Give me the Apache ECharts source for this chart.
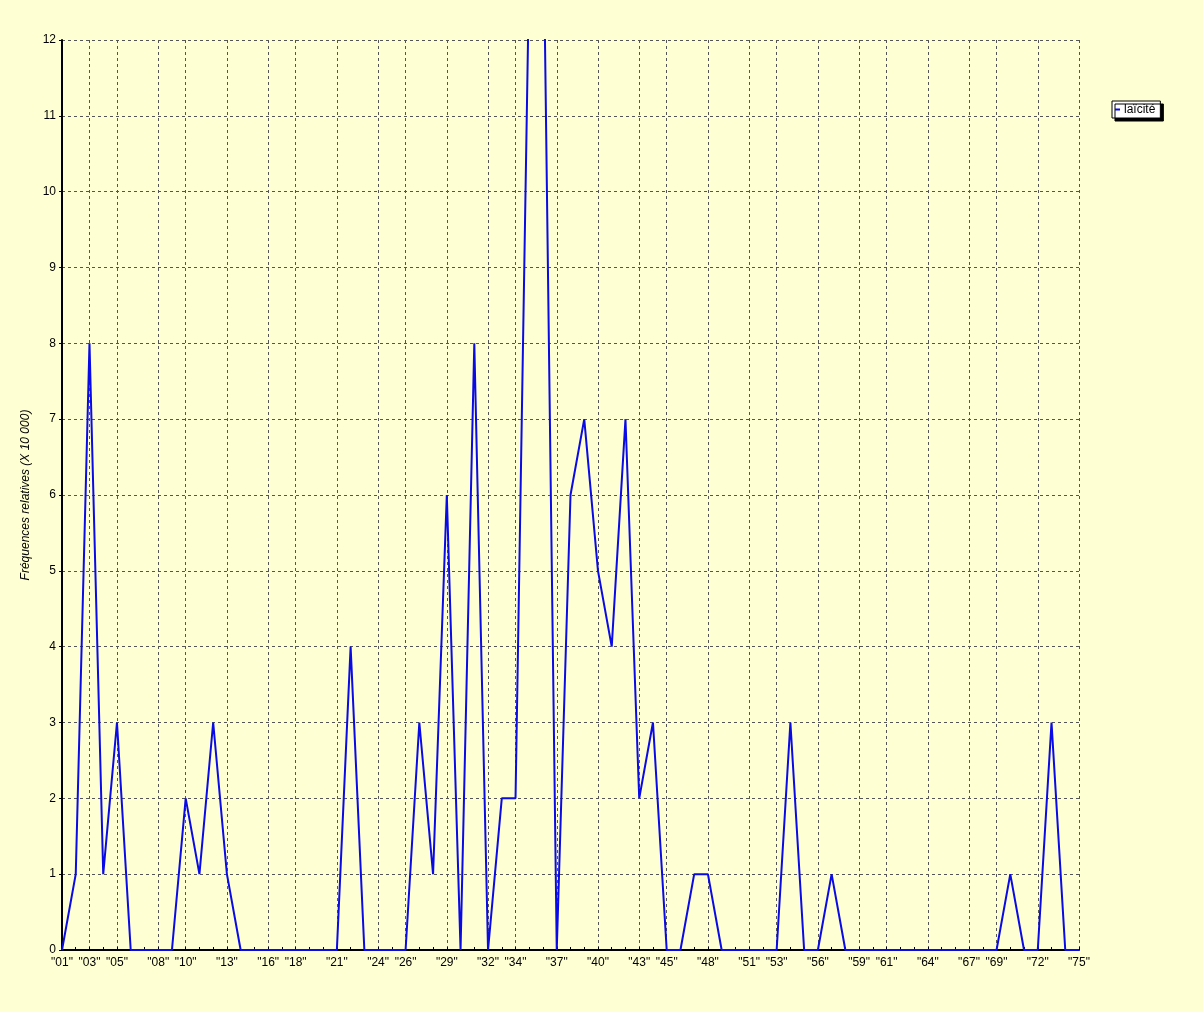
<!DOCTYPE html>
<html>
<head>
<meta charset="utf-8">
<script src="https://cdn.jsdelivr.net/npm/echarts@6/dist/echarts.min.js"></script>
<style>
html,body{margin:0;padding:0;background:#ffffd4;}
#c{width:1203px;height:1012px;}
</style>
</head>
<body>
<div id="c"></div>
<script>
var categories = ["01","02","03","04","05","06","07","08","09","10","11","12","13","14","15","16","17","18","19","20","21","22","23","24","25","26","27","28","29","30","31","32","33","34","35","36","37","38","39","40","41","42","43","44","45","46","47","48","49","50","51","52","53","54","55","56","57","58","59","60","61","62","63","64","65","66","67","68","69","70","71","72","73","74","75"];
var laicite = [0,1,8,1,3,0,0,0,0,2,1,3,1,0,0,0,0,0,0,0,0,4,0,0,0,0,3,1,6,0,8,0,2,2,13,14,0,6,7,5,4,7,2,3,0,0,1,1,0,0,0,0,0,3,0,0,1,0,0,0,0,0,0,0,0,0,0,0,0,1,0,0,3,0,0];
var labeledCategories = ["01","03","05","08","10","13","16","18","21","24","26","29","32","34","37","40","43","45","48","51","53","56","59","61","64","67","69","72","75"];
var yTicks = [0,1,2,3,4,5,6,7,8,9,10,11,12];

var chart = echarts.init(document.getElementById('c'));
function isLabeled(idx){ return labeledCategories.indexOf(categories[idx]) >= 0; }
var font = 'Liberation Sans, Arial, sans-serif';
chart.setOption({
  backgroundColor: '#ffffd4',
  animation: false,
  grid: {left: 62, top: 40, width: 1017, height: 910, containLabel: false},
  legend: {
    data: ['laïcité'],
    left: 1112, top: 101,
    orient: 'vertical',
    backgroundColor: '#ffffff',
    borderColor: '#000000',
    borderWidth: 1,
    borderRadius: 0,
    padding: [2, 5, 2, 3],
    shadowColor: '#000000',
    shadowOffsetX: 3,
    shadowOffsetY: 3,
    shadowBlur: 0,
    icon: 'rect',
    itemWidth: 5,
    itemHeight: 2,
    itemGap: 3,
    textStyle: {fontFamily: font, fontSize: 12, lineHeight: 13, color: '#000', padding: [0, 0, 0, -1]}
  },
  xAxis: {
    type: 'category',
    data: categories,
    boundaryGap: false,
    axisLine: {lineStyle: {color: '#000', width: 2}},
    axisTick: {show: true, interval: 0, length: 3, inside: true, lineStyle: {color: '#000', width: 1}},
    axisLabel: {
      interval: function(idx){ return isLabeled(idx); },
      formatter: function(v){ return '"' + v + '"'; },
      fontFamily: font, fontSize: 12, color: '#000', margin: 7
    },
    splitLine: {
      show: true,
      interval: function(idx){ return isLabeled(idx) && idx > 0; },
      lineStyle: {color: '#555', width: 1, type: [3, 3]}
    }
  },
  yAxis: {
    type: 'value',
    min: yTicks[0], max: yTicks[yTicks.length-1], interval: 1,
    name: 'Fréquences relatives (X 10 000)',
    nameLocation: 'middle',
    nameGap: 30,
    nameRotate: 90,
    nameTextStyle: {fontFamily: font, fontSize: 12, fontStyle: 'italic', color: '#000'},
    axisLine: {show: true, lineStyle: {color: '#000', width: 2}},
    axisTick: {show: true, length: 3, lineStyle: {color: '#000'}},
    axisLabel: {fontFamily: font, fontSize: 12, color: '#000', margin: 6},
    splitLine: {show: true, lineStyle: {color: '#555', width: 1, type: [3, 3]}}
  },
  series: [{
    name: 'laïcité',
    type: 'line',
    data: laicite,
    clip: true,
    showSymbol: false,
    symbol: 'none',
    lineStyle: {color: '#0a0ae6', width: 2},
    itemStyle: {color: '#0a0ae6'}
  }]
});
</script>
</body>
</html>
